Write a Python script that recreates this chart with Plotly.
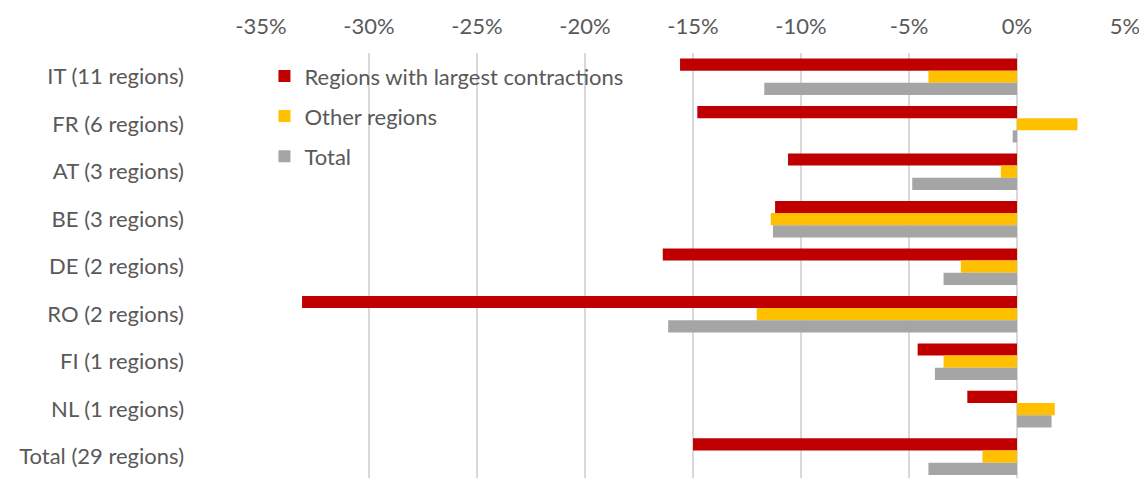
import plotly.graph_objects as go

categories = ["IT (11 regions)", "FR (6 regions)", "AT (3 regions)", "BE (3 regions)",
              "DE (2 regions)", "RO (2 regions)", "FI (1 regions)", "NL (1 regions)",
              "Total (29 regions)"]

largest = [-15.6, -14.8, -10.6, -11.2, -16.4, -33.1, -4.6, -2.3, -15.0]
other = [-4.1, 2.8, -0.75, -11.4, -2.6, -12.05, -3.4, 1.75, -1.6]
total = [-11.7, -0.2, -4.85, -11.3, -3.4, -16.15, -3.8, 1.6, -4.1]

tick_vals = [-35, -30, -25, -20, -15, -10, -5, 0, 5]
tick_text = ["-35%", "-30%", "-25%", "-20%", "-15%", "-10%", "-5%", "0%", "5%"]

font_color = "#595959"

fig = go.Figure()
series = [("Regions with largest contractions", largest, "#C00000"),
          ("Other regions", other, "#FFC000"),
          ("Total", total, "#A5A5A5")]
for name, vals, col in series:
    fig.add_trace(go.Bar(y=categories, x=vals, name=name, orientation="h",
                         marker={"color": col, "line": {"width": 0}},
                         legendgroup=name))

# page body has an 8px margin, so the figure is sized/offset to compensate
fig.update_layout(
    width=1139, height=470,
    margin={"l": 253, "r": 22, "t": 45, "b": 0},
    barmode="group", bargap=0.23, bargroupgap=0,
    plot_bgcolor="white", paper_bgcolor="white",
    font={"family": "Lato, Carlito, sans-serif", "size": 22, "color": font_color},
    legend={"x": 0.004, "y": 0.995, "xanchor": "left", "yanchor": "top",
            "traceorder": "grouped", "tracegroupgap": 8.5,
            "font": {"size": 22, "color": font_color},
            "bgcolor": "rgba(0,0,0,0)", "itemwidth": 30},
)
fig.update_xaxes(side="top", range=[-35, 5], tickvals=tick_vals, ticktext=tick_text,
                 showgrid=True, gridcolor="#D9D9D9", gridwidth=1.5,
                 zeroline=True, zerolinecolor="#D9D9D9", zerolinewidth=1.5,
                 showline=False, ticks="", ticklabelstandoff=14)
# bottom row is slightly cut by the window edge in the original
fig.update_yaxes(range=[8.45, -0.5], showgrid=False, showline=False, ticks="",
                 ticklabelstandoff=76)

fig.write_html("out.html")
